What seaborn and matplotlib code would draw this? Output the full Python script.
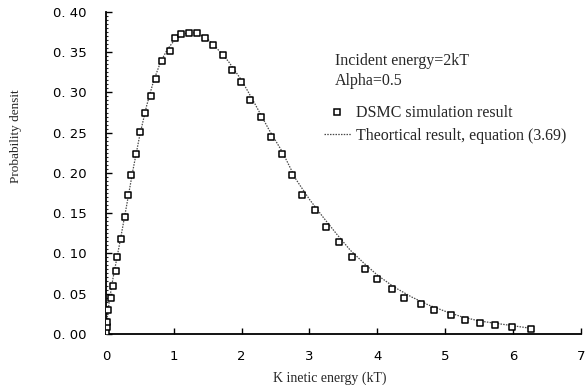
import numpy as np
import pandas as pd
import matplotlib
matplotlib.use("Agg")
import matplotlib.pyplot as plt
from matplotlib.lines import Line2D
import seaborn as sns

# DSMC simulation samples: kinetic energy (kT) and probability density
dsmc_energy = [0.00, 0.01, 0.02, 0.034, 0.073, 0.107, 0.14, 0.168, 0.22, 0.278,
               0.326, 0.366, 0.435, 0.498, 0.581, 0.669, 0.732, 0.83, 0.937, 1.02,
               1.108, 1.23, 1.337, 1.46, 1.58, 1.72, 1.85, 1.996, 2.13, 2.28,
               2.43, 2.59, 2.74, 2.89, 3.085, 3.25, 3.44, 3.62, 3.82, 4.0,
               4.22, 4.40, 4.64, 4.84, 5.08, 5.29, 5.51, 5.74, 5.99, 6.26]
dsmc_density = [0.002, 0.009, 0.015, 0.029, 0.044, 0.059, 0.078, 0.096, 0.118, 0.145,
                0.172, 0.197, 0.223, 0.251, 0.274, 0.296, 0.317, 0.339, 0.352, 0.368,
                0.372, 0.374, 0.374, 0.368, 0.359, 0.346, 0.328, 0.313, 0.290, 0.270,
                0.245, 0.223, 0.197, 0.173, 0.154, 0.133, 0.114, 0.096, 0.081, 0.068,
                0.056, 0.045, 0.037, 0.029, 0.023, 0.017, 0.013, 0.011, 0.009, 0.006]

# Theoretical curve, equation (3.69)
theory_energy = [0.0, 0.02, 0.05, 0.1, 0.2, 0.3, 0.4, 0.5, 0.6, 0.7, 0.8, 0.9, 1.0,
                 1.1, 1.2, 1.3, 1.4, 1.5, 1.6, 1.8, 2.0, 2.2, 2.4, 2.6, 2.8, 3.0,
                 3.2, 3.4, 3.6, 3.8, 4.0, 4.25, 4.5, 4.75, 5.0, 5.25, 5.5, 5.75,
                 6.0, 6.25]
theory_density = [0.0, 0.022, 0.042, 0.068, 0.112, 0.158, 0.205, 0.248, 0.284, 0.314,
                  0.337, 0.353, 0.364, 0.371, 0.374, 0.374, 0.371, 0.366, 0.358, 0.339,
                  0.315, 0.285, 0.254, 0.226, 0.192, 0.167, 0.145, 0.124, 0.104, 0.088,
                  0.073, 0.058, 0.046, 0.036, 0.028, 0.021, 0.016, 0.013, 0.010, 0.007]

xticks = [0, 1, 2, 3, 4, 5, 6, 7]
yticks = [0.00, 0.05, 0.10, 0.15, 0.20, 0.25, 0.30, 0.35, 0.40]
yticklabels = ["0. 00", "0. 05", "0. 10", "0. 15", "0. 20", "0. 25", "0. 30", "0. 35", "0. 40"]

dsmc = pd.DataFrame({"energy": dsmc_energy, "density": dsmc_density})
theory = pd.DataFrame({"energy": theory_energy, "density": theory_density})

sns.set_style("ticks")
plt.rcParams["font.family"] = ["DejaVu Sans"]
serif = ["Liberation Serif", "DejaVu Serif"]

fig = plt.figure(figsize=(5.86, 3.85), dpi=100)
ax = fig.add_axes([0.181, 0.133, 0.810, 0.836])

line_style = (0, (1.2, 1.0))
sns.lineplot(data=theory, x="energy", y="density", ax=ax, color="#4a4a4a",
             linewidth=0.9, linestyle=line_style, zorder=2)
sns.scatterplot(data=dsmc, x="energy", y="density", ax=ax, marker="s", s=20,
                facecolor="white", edgecolor="black", linewidth=1.1, zorder=3)

ax.set_xlim(0, 7)
ax.set_ylim(0, 0.40)
ax.set_xticks(xticks)
ax.set_xticklabels([str(t) for t in xticks], fontsize=9.5)
ax.set_yticks(yticks)
ax.set_yticklabels(yticklabels, fontsize=9.5)
ax.yaxis.set_minor_locator(matplotlib.ticker.MultipleLocator(0.005))
ax.tick_params(which="major", direction="in", length=4, width=1.0, pad=14, colors="black")
ax.tick_params(axis="x", which="major", pad=12)
ax.tick_params(which="minor", direction="in", length=1.5, width=0.8)
sns.despine(ax=ax)
for side in ("left", "bottom"):
    ax.spines[side].set_linewidth(1.3)
    ax.spines[side].set_color("black")

ax.set_xlabel("K inetic energy (kT)", family=serif, fontsize=10)
ax.set_ylabel("Probability densit", family=serif, fontsize=9.5)
ax.xaxis.set_label_coords(0.472, -0.117)
ax.yaxis.set_label_coords(-0.178, 0.615)

ax.text(0.482, 0.848, "Incident energy=2kT", transform=ax.transAxes,
        family=serif, fontsize=11.5, va="center", ha="left")
ax.text(0.482, 0.786, "Alpha=0.5", transform=ax.transAxes,
        family=serif, fontsize=11.5, va="center", ha="left")

handles = [
    Line2D([], [], marker="s", linestyle="none", markersize=4.2,
           markerfacecolor="white", markeredgecolor="black", markeredgewidth=1.1),
    Line2D([], [], color="#4a4a4a", linewidth=0.9, linestyle=line_style),
]
ax.legend(handles, ["DSMC simulation result", "Theortical result, equation (3.69)"],
          loc="upper left", bbox_to_anchor=(0.445, 0.73), frameon=False,
          prop={"family": serif, "size": 11.5}, handlelength=1.7,
          handletextpad=0.35, labelspacing=0.4, borderaxespad=0)

fig.savefig("out.png", dpi=100)
